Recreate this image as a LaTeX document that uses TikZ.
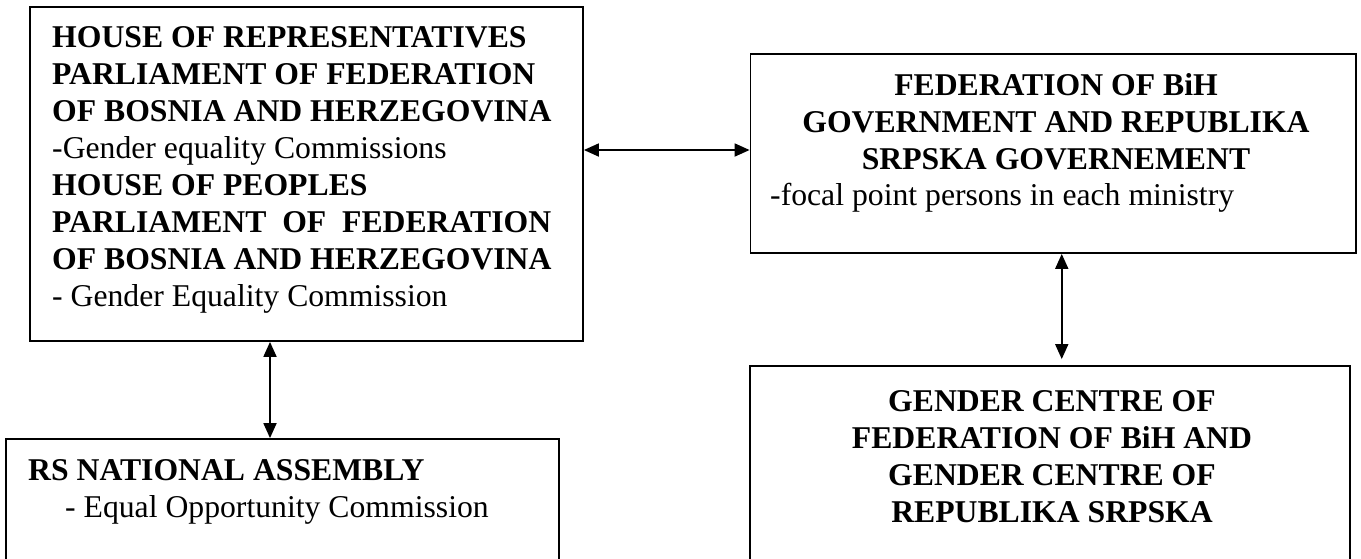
\documentclass[tikz,border=0pt]{standalone}
\usepackage{fontspec}
\setmainfont{Liberation Serif}
\usetikzlibrary{arrows.meta}

\begin{document}
\begin{tikzpicture}[x=1pt,y=-1pt,
  orgbox/.style={rectangle,draw,line width=1.8pt,inner sep=0pt},
  txt/.style={inner sep=0pt,align=left,font=\fontsize{31.7}{37}\selectfont},
  title/.style={inner sep=0pt,align=center,font=\fontsize{31.7}{37}\selectfont\bfseries},
  link/.style={<->,>={Triangle[length=15pt,width=13pt]},line width=1.8pt}]
\useasboundingbox (0,0) rectangle (1361,558);
\clip (0,0) rectangle (1361,558);

\path (306.5,174) node[orgbox,minimum width=553pt,minimum height=334pt] (HR) {};
\path (52,26) node[txt,anchor=north west] (HRtext) {\textbf{HOUSE OF REPRESENTATIVES}\\
  \textbf{PARLIAMENT OF FEDERATION}\\
  \textbf{OF BOSNIA AND HERZEGOVINA}\\
  -Gender equality Commissions\\
  \textbf{HOUSE OF PEOPLES}\\
  \textbf{PARLIAMENT~ OF~ FEDERATION}\\
  \textbf{OF BOSNIA AND HERZEGOVINA}\\
  - Gender Equality Commission};

\path (1053.25,153.5) node[orgbox,minimum width=605.5pt,minimum height=199pt] (GOV) {};
\path (1056,73) node[title,anchor=north] (GOVtitle) {FEDERATION OF BiH\\
  GOVERNMENT AND REPUBLIKA\\
  SRPSKA GOVERNEMENT};
\path (770,205) node[txt,anchor=base west] (GOVtext) {-focal point persons in each ministry};

\path (282.5,519.5) node[orgbox,minimum width=553pt,minimum height=161pt] (RS) {};
\path (28,459) node[txt,anchor=north west] (RStext) {\textbf{RS NATIONAL ASSEMBLY}\\
  \hspace*{37pt}- Equal Opportunity Commission};

\path (1050,483) node[orgbox,minimum width=600pt,minimum height=234pt] (GC) {};
\path (1052,390) node[title,anchor=north] (GCtitle) {GENDER CENTRE OF\\
  FEDERATION OF BiH AND\\
  GENDER CENTRE OF\\
  REPUBLIKA SRPSKA};

\draw[link] ([yshift=3.5pt]GOV.west -| HR.east) -- ([yshift=3.5pt]GOV.west);
\draw[link,shorten >=6pt] ([xshift=8.5pt]GOV.south) -- ([xshift=8.5pt]GOV.south |- GC.north);
\draw[link] ([xshift=-12.5pt]RS.north |- HR.south) -- ([xshift=-12.5pt]RS.north);
\end{tikzpicture}
\end{document}
